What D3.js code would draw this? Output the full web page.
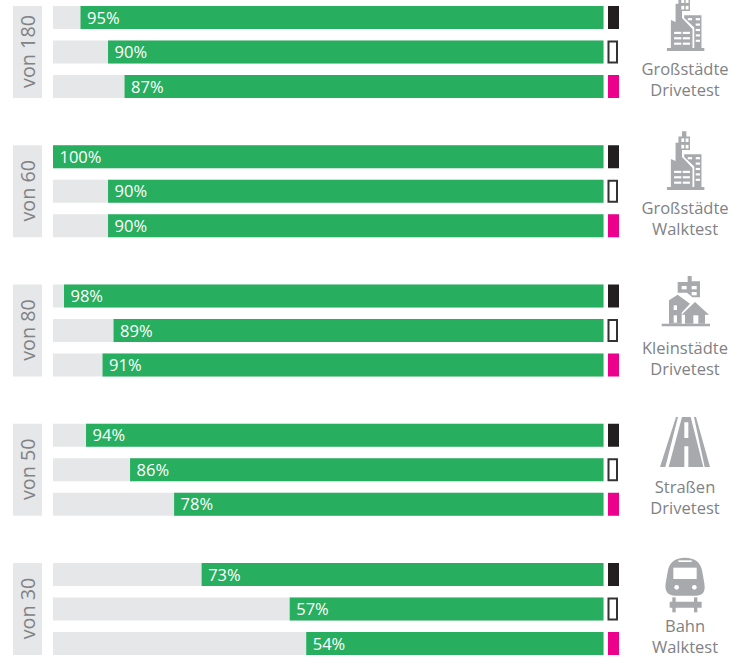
<!DOCTYPE html>
<html>
<head>
<meta charset="utf-8">
<style>
  html, body { margin: 0; padding: 0; background: #fff; }
  text { font-family: "Open Sans", sans-serif; }
</style>
</head>
<body>
<svg width="740" height="657"></svg>
<script src="https://cdn.jsdelivr.net/npm/d3@7"></script>
<script>
    // one entry per block, top to bottom
    var sampleLabels = ["von 180", "von 60", "von 80", "von 50", "von 30"];
    var testLines1 = ["Großstädte", "Großstädte", "Kleinstädte", "Straßen", "Bahn"];
    var testLines2 = ["Drivetest", "Walktest", "Drivetest", "Drivetest", "Walktest"];
    var iconNames = ["city", "city", "town", "road", "train"];
    var operators = ["a", "b", "c"];
    var operatorA = [95, 100, 98, 94, 73];
    var operatorB = [90, 90, 89, 86, 57];
    var operatorC = [87, 90, 91, 78, 54];

    var green = "#27ae5f", track = "#e6e7e8", grey = "#808285", iconGrey = "#a7a9ac";
    var dark = "#231f20", pink = "#ec008c";

    var svg = d3.select("svg");

    var x = d3.scaleLinear().domain([100, 0]).range([53, 603.5]);
    var blockY = d3.scalePoint().domain(d3.range(sampleLabels.length)).range([6, 563]);
    var rowY = d3.scalePoint().domain(operators).range([0, 69]);
    var barH = 23;

    var rows = [];
    sampleLabels.forEach(function(s, i) {
        rows.push({block: i, op: "a", v: operatorA[i]});
        rows.push({block: i, op: "b", v: operatorB[i]});
        rows.push({block: i, op: "c", v: operatorC[i]});
    });
    function rowTop(d) { return blockY(d.block) + rowY(d.op); }

    // grey tracks
    svg.append("g").selectAll("rect").data(rows).enter().append("rect")
        .attr("x", x(100)).attr("y", rowTop)
        .attr("width", x(0) - x(100)).attr("height", barH)
        .attr("fill", track);

    // green bars, they hang on the right side
    svg.append("g").selectAll("rect").data(rows).enter().append("rect")
        .attr("x", function(d) { return x(d.v); }).attr("y", rowTop)
        .attr("width", function(d) { return x(0) - x(d.v); }).attr("height", barH)
        .attr("fill", green);

    svg.append("g").selectAll("text").data(rows).enter().append("text")
        .attr("x", function(d) { return x(d.v) + 6.5; })
        .attr("y", function(d) { return rowTop(d) + barH / 2 + 6; })
        .attr("fill", "#fff").attr("font-size", 16.5)
        .text(function(d) { return d.v + "%"; });

    // operator swatches
    svg.append("g").selectAll("rect").data(rows).enter().append("rect")
        .attr("y", function(d) { return rowTop(d) + (d.op == "b" ? 1 : 0); })
        .attr("x", function(d) { return d.op == "b" ? 608.5 : 608; })
        .attr("width", function(d) { return d.op == "b" ? 8.5 : 11; })
        .attr("height", function(d) { return d.op == "b" ? barH - 2 : barH; })
        .attr("fill", function(d) { return d.op == "a" ? dark : d.op == "b" ? "#fff" : pink; })
        .attr("stroke", function(d) { return d.op == "b" ? "#333" : "none"; })
        .attr("stroke-width", 2);

    // rotated sample labels on the left
    var side = svg.append("g").selectAll("g").data(sampleLabels).enter().append("g")
        .attr("transform", function(d, i) { return "translate(13," + blockY(i) + ")"; });
    side.append("rect").attr("width", 29).attr("height", 92).attr("fill", track);
    side.append("text")
        .attr("transform", "translate(21.5,45.5) rotate(-90)")
        .attr("text-anchor", "middle").attr("fill", grey).attr("font-size", 19.8)
        .text(function(d) { return d; });

    // test type captions
    var cap = svg.append("g").selectAll("g").data(testLines1).enter().append("g")
        .attr("transform", function(d, i) { return "translate(685," + blockY(i) + ")"; })
        .attr("text-anchor", "middle").attr("fill", grey).attr("font-size", 16.5);
    cap.append("text").attr("y", 69).text(function(d) { return d; });
    cap.append("text").attr("y", 90).text(function(d, i) { return testLines2[i]; });

    // icons, paths at 3x
    var iconShapes = {
        city: [
            "M33 175V97L46 103V52H54V35H64V20H76V35H86V72H64V92L93 122V175Z",
            "M70 84H118V175H98V118L70 92Z",
            "M22 175H126V183H22Z"
        ],
        town: [
            "M68 30H98V12H110V28H135V76H112L96 62H68Z",
            "M42 155V85L68 68L105 95L80 122V155Z",
            "M80 128L120 90L162 128H150V155H90V128Z",
            "M20 155H165V163H20Z"
        ],
        road: [
            "M0 150L48 0H54L16 150Z",
            "M102 0H108L150 150H134Z",
            "M26 150L66 0H92L130 150H85V88H73V150ZM73 63H85V16H73Z"
        ],
        train: [
            "M90 8C60 8 42 22 38 50L32 85C28 110 40 122 60 122H122C145 122 152 110 148 85L142 50C138 22 120 8 90 8Z",
            "M44 140H140V158H44Z",
            "M52 127H62V172H52Z",
            "M117 127H127V172H117Z"
        ]
    };
    var iconHoles = {
        city: [[62,40,8,10],[74,40,8,10],[62,58,8,10],[74,58,8,10],[42,130,20,6],[66,130,20,6],[42,145,20,6],[66,145,20,6],[42,160,20,6],[66,160,20,6],[80,92,12,6],[102,92,12,6],[102,107,12,6],[102,122,12,6],[102,137,12,6],[102,152,12,6]],
        town: [[80,42,15,10],[110,42,15,10],[110,60,15,10],[56,100,10,14],[56,130,10,22],[115,130,15,25]],
        road: [],
        train: [[70,16,40,5],[55,38,70,34]]
    };
    // where each icon sits, and how big; the first city is cut by the top edge
    var iconAt = {
        city: function(i) { return i == 0 ? [659, -15] : [659, 124]; },
        town: function() { return [655, 272]; },
        road: function() { return [660, 417]; },
        train: function() { return [655, 555]; }
    };
    var iconScale = {city: 0.36, town: 1 / 3, road: 1 / 3, train: 1 / 3};

    var icons = svg.append("g").selectAll("g").data(iconNames).enter().append("g")
        .attr("fill", iconGrey)
        .attr("transform", function(d, i) {
            var p = iconAt[d](i);
            return "translate(" + p[0] + "," + p[1] + ") scale(" + iconScale[d] + ")";
        });
    icons.selectAll("path").data(function(d) { return iconShapes[d]; }).enter().append("path")
        .attr("d", function(d) { return d; });
    icons.selectAll("rect").data(function(d) { return iconHoles[d]; }).enter().append("rect")
        .attr("x", function(d) { return d[0]; }).attr("y", function(d) { return d[1]; })
        .attr("width", function(d) { return d[2]; }).attr("height", function(d) { return d[3]; })
        .attr("fill", "#fff");
    icons.filter(function(d) { return d == "train"; }).selectAll("circle").data([65, 118]).enter().append("circle")
        .attr("cx", function(d) { return d; }).attr("cy", 97).attr("r", 7).attr("fill", "#fff");
</script>
</body>
</html>
